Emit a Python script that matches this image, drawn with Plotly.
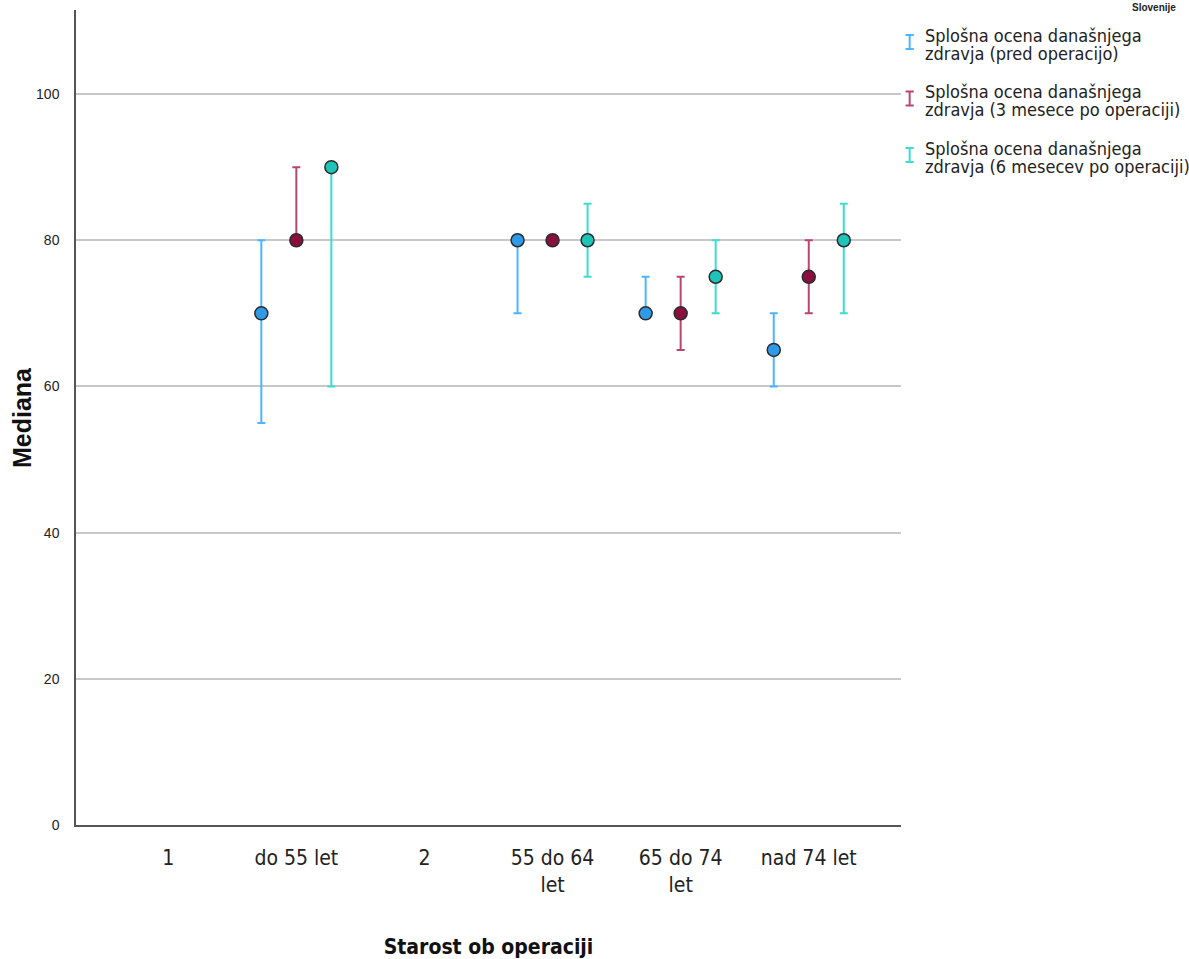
import plotly.graph_objects as go

# Age groups at surgery (x categories) and tick labels
categories = ["1", "do 55 let", "2", "55 do 64 let", "65 do 74 let", "nad 74 let"]
tick_labels = ["1", "do 55 let", "2", "55 do 64<br>let", "65 do 74<br>let", "nad 74 let"]

series_lines = [
    ("Splošna ocena današnjega", "zdravja (pred operacijo)"),
    ("Splošna ocena današnjega", "zdravja (3 mesece po operaciji)"),
    ("Splošna ocena današnjega", "zdravja (6 mesecev po operaciji)"),
]

# Medians with lower / upper bounds of the error bars
pre_median = [None, 70, None, 80, 70, 65]
pre_low = [None, 55, None, 70, 70, 60]
pre_high = [None, 80, None, 80, 75, 70]

m3_median = [None, 80, None, 80, 70, 75]
m3_low = [None, 80, None, 80, 65, 70]
m3_high = [None, 90, None, 80, 75, 80]

m6_median = [None, 90, None, 80, 75, 80]
m6_low = [None, 60, None, 75, 70, 70]
m6_high = [None, 90, None, 85, 80, 85]

y_ticks = [0, 20, 40, 60, 80, 100]

marker_colors = ["#2f9ae8", "#8a0f3f", "#1fc4b8"]
bar_colors = ["#4db5ff", "#b8476f", "#3cdccf"]

narrow = "DejaVu Sans Condensed, Liberation Sans Narrow, Liberation Sans"
regular = "Liberation Sans, Arial"


def diffs(med, hi, lo):
    plus = [None if m is None else h - m for m, h in zip(med, hi)]
    minus = [None if m is None else m - l for m, l in zip(med, lo)]
    return plus, minus


fig = go.Figure()
all_series = [
    (pre_median, pre_low, pre_high),
    (m3_median, m3_low, m3_high),
    (m6_median, m6_low, m6_high),
]
for i, (med, lo, hi) in enumerate(all_series):
    plus, minus = diffs(med, hi, lo)
    fig.add_trace(go.Scatter(
        x=categories, y=med, mode="markers",
        name=" ".join(series_lines[i]),
        offsetgroup=str(i), showlegend=False,
        marker=dict(size=13, color=marker_colors[i],
                    line=dict(color="#2b2b2b", width=1.5)),
        error_y=dict(type="data", symmetric=False, array=plus, arrayminus=minus,
                     color=bar_colors[i], thickness=2, width=4),
        cliponaxis=False,
    ))

fig.update_layout(
    width=1189, height=959,
    margin=dict(l=76, r=288, t=10, b=134),
    paper_bgcolor="white", plot_bgcolor="white",
    scattermode="group", scattergap=0.18,
    xaxis=dict(
        type="category", categoryorder="array", categoryarray=categories,
        tickvals=categories, ticktext=tick_labels,
        range=[-0.72, 5.72], showgrid=False, ticks="", automargin=False,
        showline=True, linecolor="#555555", linewidth=1.5,
        ticklabelstandoff=13,
        tickfont=dict(family=narrow, size=21, color="#222222"),
        title=dict(text="<b>Starost ob operaciji</b>", standoff=43,
                   font=dict(family=narrow, size=21, color="#111111")),
    ),
    yaxis=dict(
        range=[0, 111.5], tickvals=y_ticks, showgrid=True, automargin=False,
        gridcolor="#c8c8c8", gridwidth=2, zeroline=False, ticks="",
        showline=True, linecolor="#555555", linewidth=1.5,
        ticklabelstandoff=12,
        tickfont=dict(family=regular, size=14, color="#222222"),
    ),
)

# Y-axis title placed as rotated text left of the tick labels
fig.add_annotation(
    xref="paper", yref="paper", x=-0.066, y=0.5, xanchor="center", yanchor="middle",
    text="<b>Mediana</b>", textangle=-90, showarrow=False,
    font=dict(family=regular, size=25, color="#111111"),
)

# Legend: error-bar icons with two-line labels
legend_rows = [35, 91.5, 148]   # pixel centre of each item's first line
line_gap = 18.5
plot_top, plot_h = 10, 959 - 144


def paper_y(ypix):
    return 1 - (ypix - plot_top) / plot_h


for i, (first, second) in enumerate(series_lines):
    for k, txt in enumerate((first, second)):
        ypix = legend_rows[i] + k * line_gap
        fig.add_annotation(
            xref="paper", yref="paper", x=1.0275, y=paper_y(ypix),
            xanchor="left", yanchor="middle", text=txt, showarrow=False,
            borderpad=0, font=dict(family=narrow, size=18, color="#222222"),
        )
    yc = legend_rows[i] + 7
    top, bot = paper_y(yc - 7), paper_y(yc + 7)
    xc = 1.0105
    fig.add_shape(type="line", xref="paper", yref="paper",
                  x0=xc, x1=xc, y0=bot, y1=top,
                  line=dict(color=bar_colors[i], width=2))
    for yy in (bot, top):
        fig.add_shape(type="line", xref="paper", yref="paper",
                      x0=xc - 0.005, x1=xc + 0.005, y0=yy, y1=yy,
                      line=dict(color=bar_colors[i], width=2))

fig.add_annotation(
    xref="paper", yref="paper", x=1.3355, y=1.0125, xanchor="right", yanchor="top",
    text="<b>Slovenije</b>", showarrow=False,
    font=dict(family=regular, size=10, color="#222222"),
)

fig.write_html("out.html")
